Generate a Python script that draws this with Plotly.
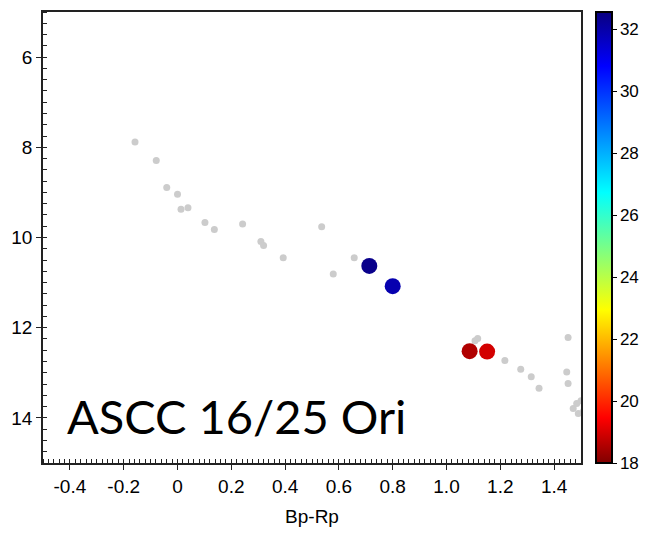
import plotly.graph_objects as go

# Field stars (grey)
field_bprp = [-0.158, -0.079, -0.040, 0.000, 0.013, 0.039, 0.102, 0.137, 0.242, 0.310,
              0.320, 0.393, 0.536, 0.579, 0.657, 1.106, 1.116, 1.217, 1.276, 1.315,
              1.344, 1.452, 1.447, 1.452, 1.471, 1.484, 1.490, 1.500, 1.510]
field_mag = [7.88, 8.29, 8.89, 9.04, 9.375, 9.34, 9.67, 9.82, 9.70, 10.09,
             10.18, 10.45, 9.76, 10.81, 10.45, 12.29, 12.24, 12.73, 12.92, 13.09,
             13.34, 12.22, 12.98, 13.24, 13.79, 13.68, 13.90, 13.62, 13.85]

# Highlighted stars (coloured by value)
star_bprp = [0.713, 0.800, 1.086, 1.151]
star_mag = [10.63, 11.08, 12.52, 12.53]
star_val = [32.4, 31.9, 18.55, 18.95]

cb_ticks = [18, 20, 22, 24, 26, 28, 30, 32]
x_ticks = [-0.4, -0.2, 0, 0.2, 0.4, 0.6, 0.8, 1.0, 1.2, 1.4]
x_ticktext = ["-0.4", "-0.2", "0", "0.2", "0.4", "0.6", "0.8", "1.0", "1.2", "1.4"]
y_ticks = [6, 8, 10, 12, 14]

jet_r = [
    [0.0, "rgb(128,0,0)"],
    [0.10, "rgb(255,0,0)"],
    [0.34, "rgb(255,255,0)"],
    [0.47, "rgb(128,255,128)"],
    [0.60, "rgb(0,255,255)"],
    [0.88, "rgb(0,0,255)"],
    [1.0, "rgb(10,0,128)"],
]

font_main = "Liberation Sans, Arial, sans-serif"

fig = go.Figure()
fig.add_trace(go.Scatter(
    x=field_bprp, y=field_mag, mode="markers",
    marker=dict(size=7, color="#cccccc"),
    showlegend=False, hoverinfo="skip",
))
fig.add_trace(go.Scatter(
    x=star_bprp, y=star_mag, mode="markers",
    marker=dict(
        size=16, color=star_val, colorscale=jet_r, cmin=18, cmax=32.55,
        line=dict(width=0),
        colorbar=dict(
            x=596 / 645, xref="container", xanchor="left",
            y=0.5, yanchor="middle", ypad=0, xpad=0,
            len=451, lenmode="pixels", thickness=16,
            outlinecolor="black", outlinewidth=2,
            tickvals=cb_ticks, ticks="outside", ticklen=4, tickcolor="black",
            tickfont=dict(family=font_main, size=17, color="black"),
        ),
    ),
    showlegend=False,
))

fig.add_annotation(
    x=-0.42, y=14.62, xref="x", yref="y", xanchor="left", yanchor="bottom",
    text="ASCC 16/25 Ori", showarrow=False,
    font=dict(family="Lato, sans-serif", size=47, color="black"),
)

axis_common = dict(
    showline=True, linecolor="#222222", linewidth=1.5, mirror=True,
    showgrid=False, zeroline=False,
    tickfont=dict(family=font_main, size=19, color="black"),
    ticks="outside", ticklen=5, tickcolor="#222222",
)

fig.update_xaxes(
    range=[-0.5, 1.5], tickvals=x_ticks, ticktext=x_ticktext,
    title=dict(text="Bp-Rp", font=dict(family=font_main, size=19, color="black"), standoff=14),
    minor=dict(dtick=0.02, ticks="inside", ticklen=4, tickcolor="#222222"),
    **axis_common,
)
fig.update_yaxes(
    range=[15, 5], tickvals=y_ticks,
    minor=dict(dtick=0.25, ticks="inside", ticklen=4, tickcolor="#222222"),
    **axis_common,
)

fig.update_layout(
    width=645, height=533,
    margin=dict(l=43, r=64, t=12, b=70, autoexpand=False),
    paper_bgcolor="white", plot_bgcolor="white",
)

fig.write_html("out.html")
